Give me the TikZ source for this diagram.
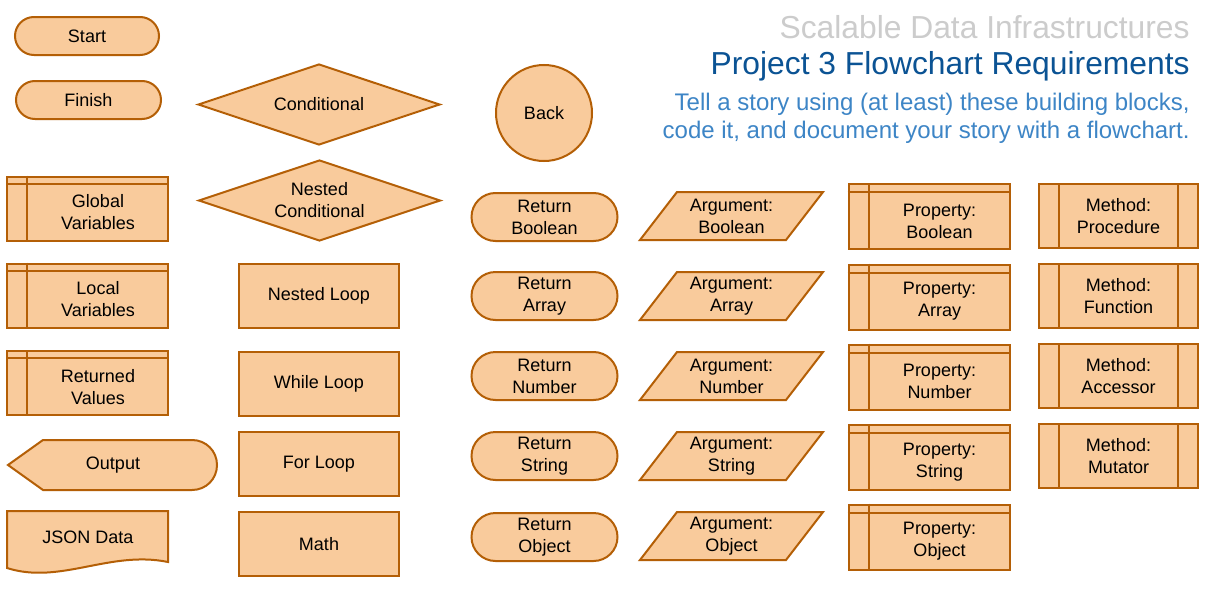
\documentclass[tikz,border=0pt]{standalone}
\usepackage{fontspec}
\setmainfont{Liberation Sans}
\usetikzlibrary{shapes.geometric,shapes.misc}
\definecolor{blockfill}{HTML}{F9CB9C}
\definecolor{blockline}{HTML}{B45F06}
\definecolor{titlegray}{HTML}{CCCCCC}
\definecolor{titleblue}{HTML}{0B5394}
\definecolor{storyblue}{HTML}{3D85C6}
\tikzset{
  block/.style={draw=blockline, fill=blockfill, line width=1pt},
  blockedge/.style={draw=blockline, line width=1pt},
  blocktext/.style={font=\fontsize{9}{11}\selectfont, align=center, inner sep=0pt},
  terminal/.style={block, blocktext, rounded rectangle, minimum width=72pt, minimum height=19pt},
  decision/.style={block, blocktext, diamond, shape aspect=3, minimum width=121pt, minimum height=40.5pt},
  process/.style={block, blocktext, rectangle, minimum width=80pt, minimum height=32pt},
  store/.style={block, rectangle, inner sep=0pt, minimum width=80.5pt, minimum height=32pt},
  heading/.style={anchor=base east, inner sep=0pt, font=\fontsize{15.9}{19}\selectfont}
}
\begin{document}
\begin{tikzpicture}[x=0.5pt, y=-0.5pt]
  \fill[white] (0,0) rectangle (1216,589);
  \useasboundingbox (0,0) rectangle (1216,589);

  % headings
  \node[heading, text=titlegray] (course) at (1190,38.5) {Scalable Data Infrastructures};
  \node[heading, text=titleblue] (project) at (1190,74) {Project 3 Flowchart Requirements};
  \node[heading, text=storyblue, font=\fontsize{12}{14}\selectfont] (story1) at (1190,110) {Tell a story using (at least) these building blocks,};
  \node[heading, text=storyblue, font=\fontsize{12}{14}\selectfont] (story2) at (1190,138) {code it, and document your story with a flowchart.};

  % first column
  \node[terminal] (start) at (87,36) {Start};
  \node[terminal, minimum width=72.5pt] (finish) at (88.5,100) {Finish};
  \foreach \nm/\yy/\txt in {gvar/208.5/{Global\\Variables}, lvar/295.5/{Local\\Variables}, rval/383/{Returned\\Values}} {
    \node[store] (\nm) at (87.5,\yy) {};
    \draw[blockedge] ([xshift=10.5pt]\nm.north west) -- ([xshift=10.5pt]\nm.south west);
    \draw[blockedge] ([yshift=-4pt]\nm.north west) -- ([yshift=-4pt]\nm.north east);
    \node[blocktext] (\nm-text) at ([xshift=5.25pt,yshift=-2pt]\nm.center) {\txt};
  }
  \draw[block] (8,465) -- (43,440) -- (192,440) .. controls (206,440) and (217,451) .. (217,465)
    .. controls (217,479) and (206,490) .. (192,490) -- (43,490) -- cycle;
  \node[blocktext] (output) at (113,465) {Output};
  \draw[block] (7,511) -- (168,511) -- (168,562) .. controls (110,550) and (60,585) .. (7,568) -- cycle;
  \node[blocktext] (json) at (88,537) {JSON Data};

  % second column
  \node[decision] (cond) at (319,104.5) {Conditional};
  \node[decision] (nestcond) at (319.5,200.5) {Nested\\Conditional};
  \foreach \nm/\yy/\txt in {nestloop/296/Nested Loop, whileloop/384/While Loop, forloop/464/For Loop, math/544/Math}
    \node[process] (\nm) at (319,\yy) {\txt};

  % returns
  \node[block, blocktext, circle, minimum size=48pt] (back) at (544,113) {Back};
  \foreach \i/\yy/\typ in {0/217/Boolean, 1/296/Array, 2/376/Number, 3/456/String, 4/537/Object}
    \node[terminal, minimum width=73pt, minimum height=24pt] (ret\i) at (544.5,\yy) {Return\\\typ};

  % arguments
  \foreach \i/\yy/\typ in {0/216/Boolean, 1/296/Array, 2/376/Number, 3/456/String, 4/536/Object} {
    \draw[block] (640,\yy+24) -- (677,\yy-24) -- (823,\yy-24) -- (786,\yy+24) -- cycle;
    \node[blocktext] (arg\i) at (731.5,\yy) {Argument:\\\typ};
  }

  % properties
  \foreach \i/\yy/\typ in {0/216.5/Boolean, 1/297/Array, 2/377/Number, 3/457.5/String, 4/537/Object} {
    \node[store, minimum height=32.5pt] (prop\i) at (929,\yy) {};
    \draw[blockedge] ([xshift=10.5pt]prop\i.north west) -- ([xshift=10.5pt]prop\i.south west);
    \draw[blockedge] ([yshift=-4.5pt]prop\i.north west) -- ([yshift=-4.5pt]prop\i.north east);
    \node[blocktext] (prop\i-text) at ([xshift=5.25pt,yshift=-2.25pt]prop\i.center) {Property:\\\typ};
  }

  % methods
  \foreach \i/\yy/\typ in {0/216/Procedure, 1/296/Function, 2/376/Accessor, 3/456/Mutator} {
    \node[store, minimum width=79.5pt] (meth\i) at (1118.5,\yy) {};
    \draw[blockedge] ([xshift=10.5pt]meth\i.north west) -- ([xshift=10.5pt]meth\i.south west);
    \draw[blockedge] ([xshift=-10.5pt]meth\i.north east) -- ([xshift=-10.5pt]meth\i.south east);
    \node[blocktext] (meth\i-text) at (meth\i.center) {Method:\\\typ};
  }
\end{tikzpicture}
\end{document}
